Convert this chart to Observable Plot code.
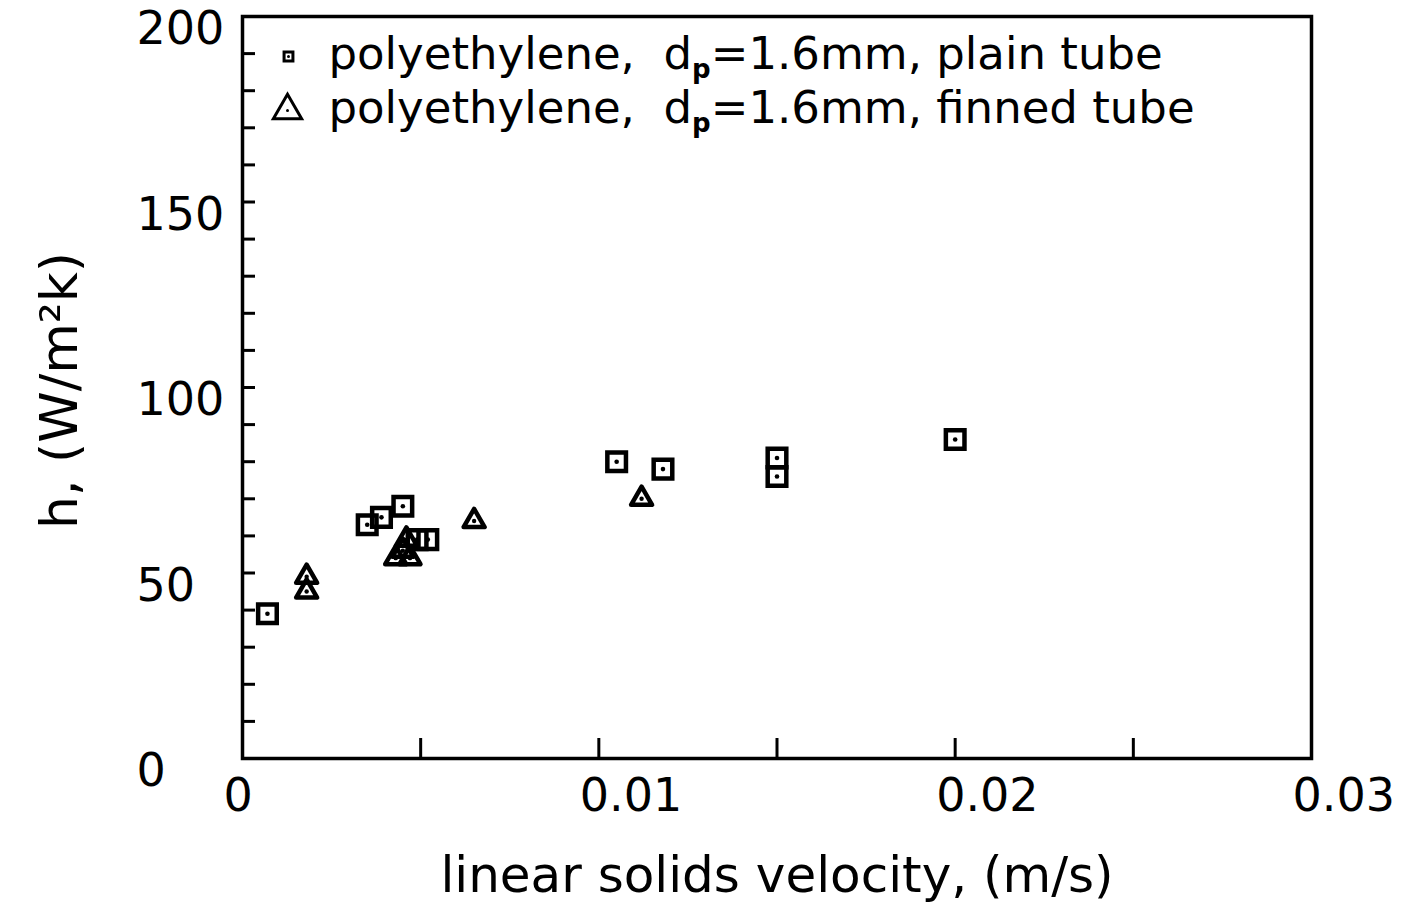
<!DOCTYPE html>
<html><head><meta charset="utf-8">
<script src="https://cdn.jsdelivr.net/npm/d3@7"></script>
<script src="https://cdn.jsdelivr.net/npm/@observablehq/plot@0.6"></script>
<style>html,body{margin:0;padding:0;background:#fff} svg{display:block}</style>
</head><body><div id="chart"></div>
<script>
// plain tube (squares)
const plainVelocity = [0.0007, 0.0035, 0.0039, 0.0045, 0.0049, 0.0052, 0.0105, 0.0118, 0.0150, 0.0150, 0.0200];
const plainH        = [39,     63,     65,     68,     59,     59,     80,     78,     81,     76,     86];
// finned tube (triangles)
const finnedVelocity = [0.0018, 0.0018, 0.0043, 0.0045, 0.0046, 0.0047, 0.0065, 0.0112];
const finnedH        = [49,     45,     54,     56,     59,     54,     64,     70];

const yMinorTicks = d3.range(0, 201, 10);
const yLabelTicks = [0, 50, 100, 150, 200];
const xMinorTicks = [0.005, 0.01, 0.015, 0.02, 0.025];
const xLabelTicks = [0, 0.01, 0.02, 0.03];
const xTickLabels = ["0", "0.01", "0.02", "0.03"];
const legendLabels = ["polyethylene,\u00a0 dp=1.6mm, plain tube", "polyethylene,\u00a0 dp=1.6mm, finned tube"];
const xTitle = "linear solids velocity, (m/s)";
const yTitle = "h, (W/m\u00b2k)";

const plain = plainVelocity.map((v, i) => ({v, h: plainH[i]}));
const finned = finnedVelocity.map((v, i) => ({v, h: finnedH[i]}));

const chart = Plot.plot({
  width: 1403, height: 902,
  marginLeft: 242, marginRight: 92, marginTop: 16, marginBottom: 144,
  style: {fontFamily: "DejaVu Sans", background: "white", color: "black"},
  x: {domain: [0, 0.03], label: null},
  y: {domain: [0, 200], label: null},
  marks: [
    Plot.axisY({ticks: yMinorTicks, tickSize: -13, strokeWidth: 3, tickFormat: () => ""}),
    Plot.axisY({ticks: yLabelTicks, tickSize: 0, tickPadding: 0, textAnchor: "start", dx: -106, dy: 13, fontSize: 46, tickFormat: d => String(d)}),
    Plot.axisX({ticks: xMinorTicks, tickSize: -20, strokeWidth: 3, tickFormat: () => ""}),
    Plot.axisX({ticks: xLabelTicks, tickSize: 0, tickPadding: 20, textAnchor: "start", dx: -19, fontSize: 46, tickFormat: d => xTickLabels[xLabelTicks.indexOf(d)]}),
    Plot.frame({stroke: "black", strokeWidth: 3.5}),
    Plot.text([xTitle], {frameAnchor: "bottom", dy: 117, fontSize: 50, textAnchor: "middle", lineAnchor: "middle"}),
    Plot.text([yTitle], {frameAnchor: "left", dx: -182, dy: 3, rotate: -90, fontSize: 52, textAnchor: "middle", lineAnchor: "middle"}),
    // legend
    Plot.text([legendLabels[0]], {frameAnchor: "top-left", dx: 86, dy: 38, textAnchor: "start", lineAnchor: "middle", fontSize: 45, className: "legend-text"}),
    Plot.text([legendLabels[1]], {frameAnchor: "top-left", dx: 86, dy: 92, textAnchor: "start", lineAnchor: "middle", fontSize: 45, className: "legend-text"}),
    Plot.dot([0], {frameAnchor: "top-left", dx: 46, dy: 40, symbol: "square", r: 5, stroke: "black", strokeWidth: 3, fill: "white"}),
    Plot.dot([0], {frameAnchor: "top-left", dx: 46, dy: 40, r: 1.5, fill: "black", stroke: "none"}),
    Plot.dot([0], {frameAnchor: "top-left", dx: 45, dy: 94, symbol: "triangle", r: 10.5, stroke: "black", strokeWidth: 3, fill: "none"}),
    Plot.dot([0], {frameAnchor: "top-left", dx: 45, dy: 94, r: 1.5, fill: "black", stroke: "none"}),
    // data
    Plot.dot(plain, {x: "v", y: "h", symbol: "square", r: 10.5, stroke: "black", strokeWidth: 4.5, fill: "none"}),
    Plot.dot(plain, {x: "v", y: "h", r: 2.3, fill: "black", stroke: "none"}),
    Plot.dot(finned, {x: "v", y: "h", symbol: "triangle", r: 7.8, stroke: "black", strokeWidth: 4.5, fill: "none", strokeLinejoin: "round"}),
    Plot.dot(finned, {x: "v", y: "h", r: 2.2, fill: "black", stroke: "none"})
  ]
});
document.getElementById("chart").appendChild(chart);

// subscript p in the legend
d3.select(chart).selectAll(".legend-text text").each(function() {
  const t = this.textContent;
  const i = t.indexOf("dp=");
  if (i < 0) return;
  const el = d3.select(this);
  el.text(null);
  el.append("tspan").text(t.slice(0, i + 1));
  el.append("tspan").attr("dy", 9).attr("font-size", 26).attr("font-weight", "bold").text("p");
  el.append("tspan").attr("dy", -9).text(t.slice(i + 2));
});
</script>
</body></html>
